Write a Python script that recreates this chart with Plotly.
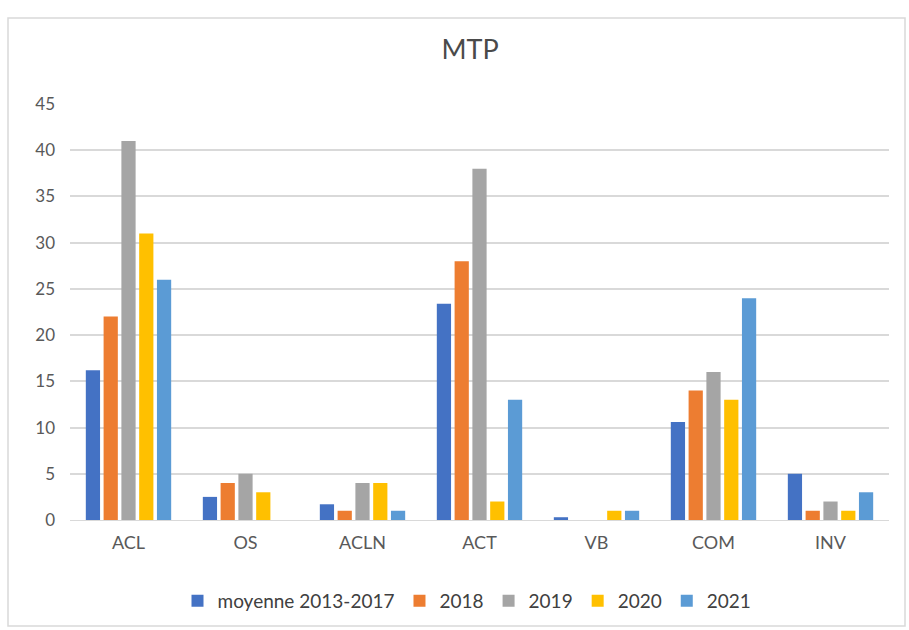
import plotly.graph_objects as go

categories = ["ACL", "OS", "ACLN", "ACT", "VB", "COM", "INV"]
series_names = ["moyenne 2013-2017", "2018", "2019", "2020", "2021"]
moyenne = [16.2, 2.5, 1.7, 23.4, 0.3, 10.6, 5]
y2018 = [22, 4, 1, 28, 0, 14, 1]
y2019 = [41, 5, 4, 38, 0, 16, 2]
y2020 = [31, 3, 4, 2, 1, 13, 1]
y2021 = [26, 0, 1, 13, 1, 24, 3]
tick_vals = [0, 5, 10, 15, 20, 25, 30, 35, 40, 45]

colors = ["#4472C4", "#ED7D31", "#A5A5A5", "#FFC000", "#5B9BD5"]
values = [moyenne, y2018, y2019, y2020, y2021]

fig = go.Figure()
for name, vals, c in zip(series_names, values, colors):
    fig.add_trace(go.Bar(name=name, x=categories, y=vals, marker_color=c,
                         marker_line_width=0))

L, R, T, B = 70, 20, 104, 110
W, H = 909, 630
pw, ph = W - L - R, H - T - B

def px_x(p):
    return (p - L) / pw

def px_y(p):
    return (H - B - p) / ph

fig.update_layout(
    width=W, height=H,
    margin=dict(l=L, r=R, t=T, b=B, autoexpand=False),
    paper_bgcolor="white", plot_bgcolor="white",
    font=dict(family="Lato, Open Sans, sans-serif", color="#595959", size=17),
    barmode="group", bargap=0.24, bargroupgap=0.2,
    title=dict(text="MTP", x=470 / W, xref="container", xanchor="center",
               y=1 - 50 / H, yref="container", yanchor="middle",
               font=dict(size=27, color="#4a4a4a")),
    showlegend=True,
    legend=dict(orientation="h", x=px_x(467), xanchor="center",
                y=px_y(601), yanchor="middle", font=dict(size=19, color="#404040"),
                traceorder="normal", itemwidth=30),
    xaxis=dict(showgrid=False, showline=True, linecolor="#D9D9D9", linewidth=1,
               ticks="", tickfont=dict(size=18), ticklabelstandoff=6),
    yaxis=dict(range=[0, 45], tickvals=tick_vals, showgrid=True, gridcolor="#D9D9D9",
               gridwidth=1.5, zeroline=False, showline=False, ticks="",
               ticklabelstandoff=14, tickfont=dict(size=17)),
    shapes=[dict(type="rect", xref="paper", yref="paper",
                 x0=px_x(8), x1=px_x(905), y0=px_y(626), y1=px_y(18),
                 line=dict(color="#D9D9D9", width=1.5), layer="below")],
)

fig.write_html("out.html", config={"displayModeBar": False},
               post_script="document.body.style.margin='0';")
